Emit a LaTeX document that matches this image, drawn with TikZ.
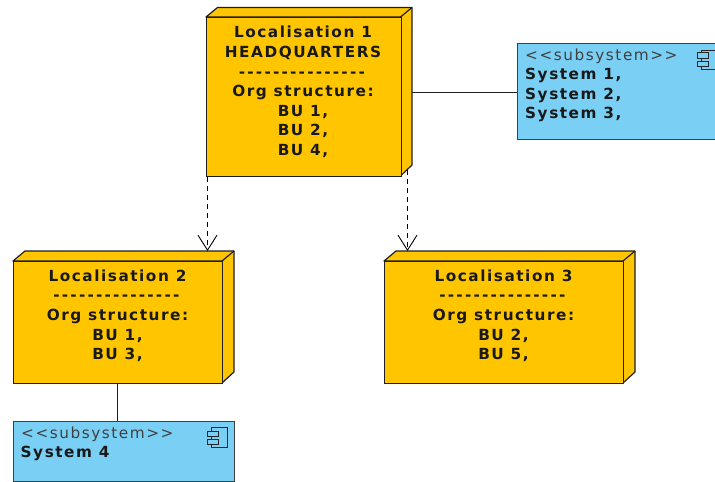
\documentclass[tikz,border=0pt]{standalone}
\usepackage{fontspec}
\setmainfont{DejaVu Sans}[LetterSpace=10]
\usetikzlibrary{arrows.meta}
\definecolor{nodefill}{HTML}{FFC600}
\definecolor{subfill}{HTML}{7ACFF5}
\definecolor{edge}{HTML}{1E1E1E}
\def\dsh{-\kern2.2pt }
\def\dashline{\dsh\dsh\dsh\dsh\dsh\dsh\dsh\dsh\dsh\dsh\dsh\dsh\dsh\dsh\dsh}
\tikzset{
  x=1pt,y=-1pt,
  front/.style={draw=edge,fill=nodefill,line width=1.2pt,inner sep=0pt,anchor=north west,minimum width=#1},
  frontsize/.style={minimum height=#1},
  depth/.style={draw=edge,fill=nodefill,line width=1.2pt,line join=round},
  subbox/.style={draw=edge!85!white,fill=subfill,line width=1.2pt,inner sep=0pt,anchor=north west},
  nodetext/.style={font=\fontsize{15.3}{19.6}\selectfont\bfseries,align=center,anchor=north,inner sep=0pt,text=black!90},
  subtext/.style={font=\fontsize{15.3}{19.6}\selectfont,align=left,anchor=north west,inner sep=0pt,text=black!90},
  stereo/.style={font=\fontsize{15.3}{19.6}\selectfont,anchor=north west,inner sep=0pt,text=black!75},
  assoc/.style={draw=edge,line width=1pt},
  dep/.style={draw=black,line width=1pt,dash pattern=on 5pt off 4pt,-{Straight Barb[length=15pt,width=19pt,line width=0.9pt]}},
  icon/.style={draw=black!85,line width=1pt,fill=subfill},
}
\begin{document}
\begin{tikzpicture}
\useasboundingbox (0,0) rectangle (715,482);
\clip (0,0) rectangle (715,482);
% node 1
\draw[depth] (206,17) -- (217.5,7.5) -- (412,7.5) -- (412,165) -- (400.5,176) -- (400.5,17) -- cycle;
\draw[depth] (400.5,17) -- (412,7.5);
\node[front=194.5pt,frontsize=159pt] (n1) at (206,17) {};
\node[nodetext] (t1) at (303,26) {Localisation 1\\HEADQUARTERS\\\dashline\\Org structure:\\BU 1,\\BU 2,\\BU 4,};
\coordinate (n1dl) at (207.5,177);
\coordinate (n1dr) at (407.5,170);
% node 2
\draw[depth] (13,261) -- (25,251) -- (234,251) -- (234,372) -- (222,383) -- (222,261) -- cycle;
\draw[depth] (222,261) -- (234,251);
\node[front=209pt,frontsize=122pt] (n2) at (13,261) {};
\node[nodetext] (t2) at (117.5,269.5) {Localisation 2\\\dashline\\Org structure:\\BU 1,\\BU 3,};
\coordinate (n2t) at (207.5,251);
% node 3
\draw[depth] (384,261) -- (396,251) -- (635,251) -- (635,372) -- (623,383) -- (623,261) -- cycle;
\draw[depth] (623,261) -- (635,251);
\node[front=239pt,frontsize=122pt] (n3) at (384,261) {};
\node[nodetext] (t3) at (503.5,269.5) {Localisation 3\\\dashline\\Org structure:\\BU 2,\\BU 5,};
\coordinate (n3t) at (407.5,251);
% subsystem 1
\node[subbox,minimum width=210pt,minimum height=96pt] (s1) at (517,43) {};
\node[stereo] (s1a) at (525,48.5) {<{}<subsystem>{}>};
\node[subtext] (s1b) at (525,68) {\bfseries System 1,\\\bfseries System 2,\\\bfseries System 3,};
\draw[icon] (701,50) rectangle (717,69);
\draw[icon] (697,52.5) rectangle (708,58);
\draw[icon] (697,61) rectangle (708,66.5);
% subsystem 4
\node[subbox,minimum width=221pt,minimum height=60pt] (s4) at (13,421) {};
\node[stereo] (s4a) at (21,426.5) {<{}<subsystem>{}>};
\node[subtext] (s4b) at (20.5,446) {\bfseries System 4};
\draw[icon] (211,427.5) rectangle (227,447);
\draw[icon] (207,431) rectangle (218,436.5);
\draw[icon] (207,439) rectangle (218,444.5);
% connectors
\draw[assoc] (412,92.5) -- (s1.west |- 0,92.5);
\draw[assoc] (n2.south -| 117.5,0) -- (s4.north -| 117.5,0);
\draw[dep] (n1dl) -- (n2t);
\draw[dep] (n1dr) -- (n3t);
\end{tikzpicture}
\end{document}
